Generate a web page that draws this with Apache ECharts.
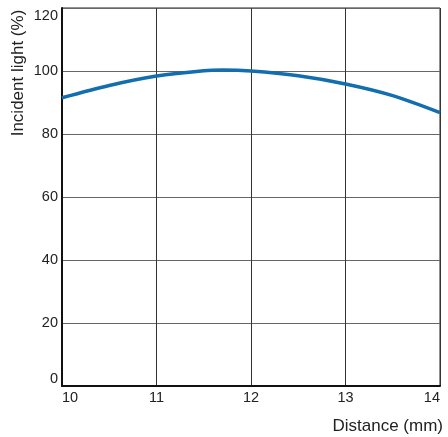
<!DOCTYPE html>
<html><head><meta charset="utf-8">
<script src="https://cdn.jsdelivr.net/npm/echarts@6/dist/echarts.min.js"></script>
<style>html,body{margin:0;padding:0;background:#fff}#c{width:448px;height:437px}</style>
</head><body><div id="c"></div>
<script>
const distance = [10, 10.5, 11, 11.5, 11.7, 12, 12.5, 13, 13.5, 14];
const incidentLight = [91.5, 95.4, 98.4, 100.1, 100.3, 100.0, 98.5, 95.9, 92.2, 86.8];
const xTicks = [10, 11, 12, 13, 14];
const yTicks = [0, 20, 40, 60, 80, 100, 120];

const chart = echarts.init(document.getElementById('c'));
const font = 'Liberation Sans, Arial, sans-serif';
chart.setOption({
  animation: false,
  grid: { left: 62, right: 8, top: 8, bottom: 51, show: true, borderColor: '#222', borderWidth: 1 },
  xAxis: {
    type: 'value', min: xTicks[0], max: xTicks[xTicks.length - 1], interval: 1,
    axisLine: { lineStyle: { color: '#111', width: 2 } },
    axisTick: { show: false },
    axisLabel: { color: '#222', fontSize: 14.5, fontFamily: font, margin: 4, alignMinLabel: 'left', alignMaxLabel: 'right' },
    splitLine: { lineStyle: { color: '#333', width: 1 } }
  },
  yAxis: {
    type: 'value', min: yTicks[0], max: yTicks[yTicks.length - 1], interval: 20,
    axisLine: { show: true, lineStyle: { color: '#111', width: 2 } },
    axisTick: { show: false },
    axisLabel: { color: '#222', fontSize: 14.5, fontFamily: font, margin: 4, verticalAlignMinLabel: 'bottom', verticalAlignMaxLabel: 'top' },
    splitLine: { lineStyle: { color: '#666', width: 1 } }
  },
  graphic: [
    { type: 'text', x: 18, y: 73, rotation: Math.PI / 2,
      style: { text: 'Incident light (%)', fill: '#222', font: '17px ' + font, textAlign: 'center', textVerticalAlign: 'middle' } },
    { type: 'text', x: 443, y: 426,
      style: { text: 'Distance (mm)', fill: '#222', font: '17px ' + font, textAlign: 'right', textVerticalAlign: 'middle' } }
  ],
  series: [{
    type: 'line', smooth: 0.3, showSymbol: false,
    data: distance.map((d, i) => [d, incidentLight[i]]),
    lineStyle: { color: '#136eb0', width: 3.5 }
  }]
});
</script></body></html>
